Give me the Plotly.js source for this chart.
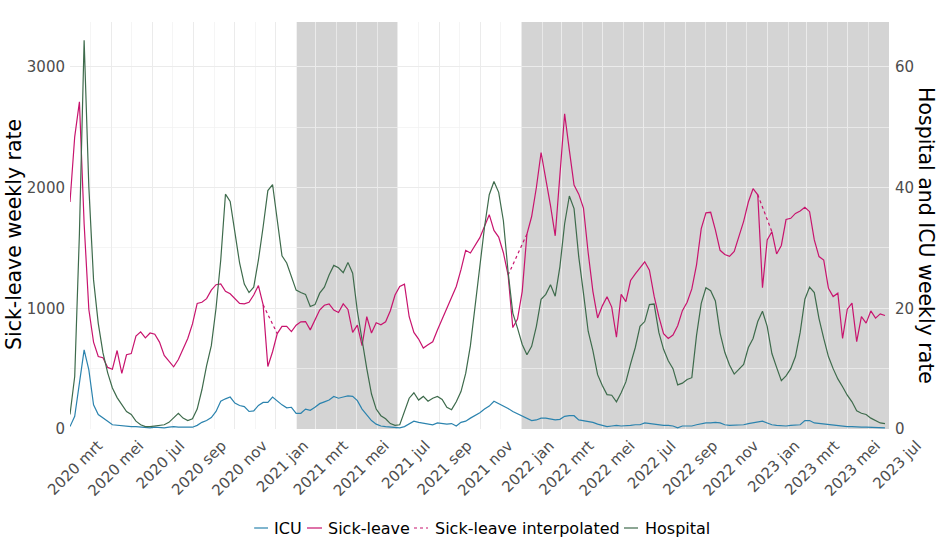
<!DOCTYPE html>
<html>
<head>
<meta charset="utf-8">
<script src="https://cdn.plot.ly/plotly-3.0.1.min.js"></script>
<style>
  html, body { margin: 0; padding: 0; background: #ffffff; }
  #chart { width: 940px; height: 537px; }
</style>
</head>
<body>
<div id="chart"></div>
<script>
// Weekly series, first week starting 2020-03-01
const firstWeek = '2020-03-01';

// Sick-leave weekly rate (left axis)
const sickLeave = [
  1880, 2420, 2710, 1700, 990, 720, 600, 590, 510, 495,
  650, 460, 615, 625, 770, 805, 755, 795, 785, 720,
  610, 560, 515, 575, 660, 750, 870, 1040, 1050, 1080,
  1150, 1195, 1202, 1140, 1120, 1083, 1040, 1036, 1050, 1110,
  1188, 1028, 518, 640, 790, 850, 850, 807, 860, 888,
  890, 821, 904, 985, 1025, 1036, 985, 965, 1036, 990,
  800, 860, 690, 930, 795, 880, 863, 888, 980, 1110,
  1180, 1199, 930, 800, 745, 670, 697, 722, 820, 910,
  990, 1080, 1180, 1320, 1480, 1458, 1524, 1585, 1680, 1775,
  1645, 1590, 1460, 1275, 840, 910, 1140, 1615, 1760, 2000,
  2290, 2080, 1850, 1600, 2070, 2610, 2310, 2020, 1945, 1830,
  1460, 1140, 920, 1020, 1095, 1010, 760, 1115, 1055, 1230,
  1285, 1335, 1385, 1315, 1100, 930, 790, 750, 778, 855,
  980, 1050, 1160, 1360, 1660, 1790, 1795, 1650, 1480, 1445,
  1430, 1470, 1590, 1720, 1880, 1990, 1940, 1170, 1565, 1634,
  1450, 1520, 1735, 1745, 1786, 1805, 1836, 1800, 1566, 1428,
  1400, 1166, 1097, 1125, 750, 992, 1042, 724, 931, 877,
  978, 918, 954, 940
];

// Sick-leave with incomplete weeks replaced (only the affected stretches)
const sickLeaveInterpWeeks = [41, 42, 43, 44, null, 93, 94, 95, 96, 97, null, 146, 147, 148, 149];
const sickLeaveInterpValues = [1028, 949, 869, 790, null, 1275, 1360, 1445, 1530, 1615, null, 1940, 1838, 1736, 1634];

// Hospital admissions weekly rate (right axis)
const hospital = [
  2.4, 8.7, 32.4, 64.4, 40.1, 24.7, 17.5, 12.6, 9.3, 6.8,
  5.2, 4.0, 2.9, 2.4, 1.3, 0.7, 0.4, 0.4, 0.5, 0.6,
  0.7, 1.1, 1.8, 2.6, 1.8, 1.4, 1.7, 3.3, 6.5, 10.5,
  13.8, 20.0, 28.0, 38.9, 37.7, 32.4, 27.5, 24.0, 22.6, 23.5,
  28.0, 33.5, 39.5, 40.5, 34.5, 28.7, 27.5, 25.3, 23.0, 22.6,
  22.3, 20.3, 20.6, 22.5, 23.5, 25.5, 27.1, 26.7, 25.9, 27.6,
  25.8, 19.5, 14.5, 10.0, 5.8, 3.3, 2.2, 1.7, 0.9, 0.6,
  0.7, 2.9, 5.1, 6.0, 4.8, 5.4, 4.6, 5.1, 5.4, 4.9,
  3.6, 3.2, 4.5, 6.2, 9.2, 13.8, 20.5, 26.5, 33.5, 38.8,
  41.0, 39.2, 34.5, 26.0, 19.2, 16.7, 14.0, 12.3, 13.7, 17.0,
  21.5, 22.3, 23.9, 22.0, 26.9, 34.0, 38.6, 36.5, 28.5, 22.5,
  16.2, 13.0, 9.0, 7.2, 5.7, 5.6, 4.5, 6.0, 7.8, 10.8,
  13.5, 17.0, 17.8, 20.6, 20.7, 16.0, 13.2, 11.3, 10.0, 7.3,
  7.6, 8.2, 8.5, 15.5, 20.8, 23.4, 22.9, 21.2, 15.9, 12.7,
  10.6, 9.1, 9.9, 10.7, 13.5, 15.0, 17.8, 19.5, 17.0, 12.5,
  10.2, 8.0, 8.8, 10.0, 12.0, 16.0, 21.5, 23.5, 22.6, 18.3,
  15.0, 12.0, 10.0, 8.3, 7.0, 5.6, 4.5, 3.0, 2.6, 2.4,
  1.8, 1.4, 1.0, 0.9
];

// ICU admissions weekly rate (right axis)
const icu = [
  0.4, 2.1, 7.6, 13.1, 9.8, 4.0, 2.4, 1.9, 1.3, 0.7,
  0.6, 0.5, 0.4, 0.4, 0.4, 0.3, 0.3, 0.2, 0.3, 0.2,
  0.2, 0.3, 0.4, 0.3, 0.3, 0.3, 0.3, 0.6, 1.1, 1.4,
  1.9, 2.9, 4.6, 5.0, 5.3, 4.3, 3.9, 3.7, 2.9, 3.0,
  3.9, 4.4, 4.4, 5.3, 4.6, 4.0, 3.5, 3.6, 2.6, 2.6,
  3.3, 3.1, 3.6, 4.2, 4.5, 4.8, 5.4, 5.1, 5.3, 5.5,
  5.4, 4.7, 3.3, 2.3, 1.4, 0.8, 0.5, 0.4, 0.3, 0.2,
  0.2, 0.4, 0.9, 1.3, 1.1, 1.0, 0.9, 0.7, 1.0, 0.9,
  0.8, 0.9, 0.5, 1.1, 1.3, 1.8, 2.2, 2.7, 3.3, 3.8,
  4.6, 4.2, 3.9, 3.4, 2.9, 2.5, 2.1, 1.8, 1.4, 1.5,
  1.8, 1.8, 1.6, 1.5, 1.6, 2.1, 2.2, 2.2, 1.5, 1.4,
  1.3, 1.1, 0.8, 0.6, 0.4, 0.5, 0.6, 0.5, 0.5, 0.6,
  0.7, 0.7, 1.0, 0.9, 0.8, 0.6, 0.6, 0.6, 0.5, 0.2,
  0.5, 0.5, 0.5, 0.7, 0.9, 1.0, 1.0, 1.1, 1.0, 0.7,
  0.6, 0.6, 0.6, 0.7, 0.9, 1.0, 1.1, 1.3, 1.0, 0.7,
  0.6, 0.5, 0.5, 0.6, 0.6, 0.7, 1.4, 1.4, 1.0, 0.9,
  0.9, 0.7, 0.6, 0.5, 0.4, 0.4, 0.4, 0.3, 0.3, 0.3,
  0.3, 0.2, 0.2, 0.2
];

// Shaded periods
const shadedStart = ['2021-02-01', '2022-01-01'];
const shadedEnd = ['2021-07-01', '2023-07-01'];

// Axis ticks
const tickDates = [
  '2020-03-01', '2020-05-01', '2020-07-01', '2020-09-01', '2020-11-01',
  '2021-01-01', '2021-03-01', '2021-05-01', '2021-07-01', '2021-09-01', '2021-11-01',
  '2022-01-01', '2022-03-01', '2022-05-01', '2022-07-01', '2022-09-01', '2022-11-01',
  '2023-01-01', '2023-03-01', '2023-05-01', '2023-07-01'
];
const tickLabels = [
  '2020 mrt', '2020 mei', '2020 jul', '2020 sep', '2020 nov',
  '2021 jan', '2021 mrt', '2021 mei', '2021 jul', '2021 sep', '2021 nov',
  '2022 jan', '2022 mrt', '2022 mei', '2022 jul', '2022 sep', '2022 nov',
  '2023 jan', '2023 mrt', '2023 mei', '2023 jul'
];
const leftTicks = [0, 1000, 2000, 3000];
const rightTicks = [0, 20, 40, 60];

// Build weekly dates
function weekDate(i) {
  const d = new Date(firstWeek + 'T00:00:00Z');
  d.setUTCDate(d.getUTCDate() + 7 * i);
  return d.toISOString().slice(0, 10);
}
const weeks = sickLeave.map((_, i) => weekDate(i));
const interpDates = sickLeaveInterpWeeks.map(i => (i === null ? null : weekDate(i)));

const COL_ICU = '#2B83AE';
const COL_SICK = '#C8146E';
const COL_HOSP = '#3E6B4C';

const leftMax = 3371;
const ratio = 50; // right axis = left axis / 50

const traces = [
  { x: weeks, y: icu, yaxis: 'y2', mode: 'lines', name: 'ICU',
    line: { color: COL_ICU, width: 1.2 } },
  { x: weeks, y: hospital, yaxis: 'y2', mode: 'lines', name: 'Hospital',
    line: { color: COL_HOSP, width: 1.2 } },
  { x: weeks, y: sickLeave, mode: 'lines', name: 'Sick-leave',
    line: { color: COL_SICK, width: 1.2 } },
  { x: interpDates, y: sickLeaveInterpValues, mode: 'lines', name: 'Sick-leave interpolated',
    connectgaps: false, line: { color: COL_SICK, width: 1.2, dash: '3px,3px' } }
];

// Plot area in pixels
const L = 70, R = 51, T = 22, B = 108, W = 940, H = 537;
const pw = W - L - R, ph = H - T - B;
const px = v => (v - L) / pw;
const py = v => (H - B - v) / ph;

const shapes = shadedStart.map((s, k) => ({
  type: 'rect', xref: 'x', yref: 'paper', x0: s, x1: shadedEnd[k], y0: 0, y1: 1,
  fillcolor: 'rgba(0,0,0,0.17)', line: { width: 0 }, layer: 'between'
}));

// Legend row
const legendY = py(528);
const legendItems = [
  { label: 'ICU', color: COL_ICU, dash: 'solid', x0: 254, x1: 268, tx: 272 },
  { label: 'Sick-leave', color: COL_SICK, dash: 'solid', x0: 307, x1: 322, tx: 326 },
  { label: 'Sick-leave interpolated', color: COL_SICK, dash: '3px,3px', x0: 414, x1: 428, tx: 433 },
  { label: 'Hospital', color: COL_HOSP, dash: 'solid', x0: 624, x1: 638, tx: 643 }
];
legendItems.forEach(it => {
  shapes.push({ type: 'line', xref: 'paper', yref: 'paper',
    x0: px(it.x0), x1: px(it.x1), y0: legendY, y1: legendY,
    line: { color: it.color, width: 1.2, dash: it.dash } });
});

const annotations = legendItems.map(it => ({
  xref: 'paper', yref: 'paper', x: px(it.tx), y: legendY,
  xanchor: 'left', yanchor: 'middle', showarrow: false, text: it.label,
  font: { size: 16, color: '#000000' }
}));
annotations.push({
  xref: 'paper', yref: 'paper', x: px(14), y: py(235), textangle: -90,
  xanchor: 'center', yanchor: 'middle', showarrow: false,
  text: 'Sick-leave weekly rate', font: { size: 20.5, color: '#000000' }
});
annotations.push({
  xref: 'paper', yref: 'paper', x: px(926), y: py(235), textangle: 90,
  xanchor: 'center', yanchor: 'middle', showarrow: false,
  text: 'Hospital and ICU weekly rate', font: { size: 20.5, color: '#000000' }
});

const layout = {
  width: W, height: H,
  margin: { l: L, r: R, t: T, b: B, pad: 0 },
  paper_bgcolor: '#ffffff', plot_bgcolor: '#ffffff',
  font: { family: 'DejaVu Sans, sans-serif', color: '#4D4D4D' },
  showlegend: false,
  hovermode: false,
  xaxis: {
    type: 'date', range: ['2020-03-01', '2023-07-01'],
    tickmode: 'array', tickvals: tickDates, ticktext: tickLabels,
    tickangle: -45, ticklabelshift: 28, ticklabelstandoff: 4,
    tickfont: { size: 15, color: '#4D4D4D' },
    ticks: '', showline: false, zeroline: false,
    showgrid: true, gridcolor: '#EBEBEB', gridwidth: 1,
    minor: { tickmode: 'linear', tick0: '2020-03-01', dtick: 'M1', showgrid: true,
             gridcolor: '#F1F1F1', gridwidth: 0.7 }
  },
  yaxis: {
    range: [0, leftMax], tickmode: 'array', tickvals: leftTicks,
    tickfont: { size: 15, color: '#4D4D4D' }, ticks: '', ticklabelstandoff: 4,
    showline: false, zeroline: false,
    showgrid: true, gridcolor: '#EBEBEB', gridwidth: 1,
    minor: { tickmode: 'linear', tick0: 0, dtick: 500, showgrid: true,
             gridcolor: '#F1F1F1', gridwidth: 0.7 }
  },
  yaxis2: {
    overlaying: 'y', side: 'right', range: [0, leftMax / ratio],
    tickmode: 'array', tickvals: rightTicks,
    tickfont: { size: 15, color: '#4D4D4D' }, ticks: '', ticklabelstandoff: 5,
    showline: false, zeroline: false, showgrid: false
  },
  shapes: shapes,
  annotations: annotations
};

Plotly.newPlot('chart', traces, layout, { staticPlot: true, displayModeBar: false });
</script>
</body>
</html>
